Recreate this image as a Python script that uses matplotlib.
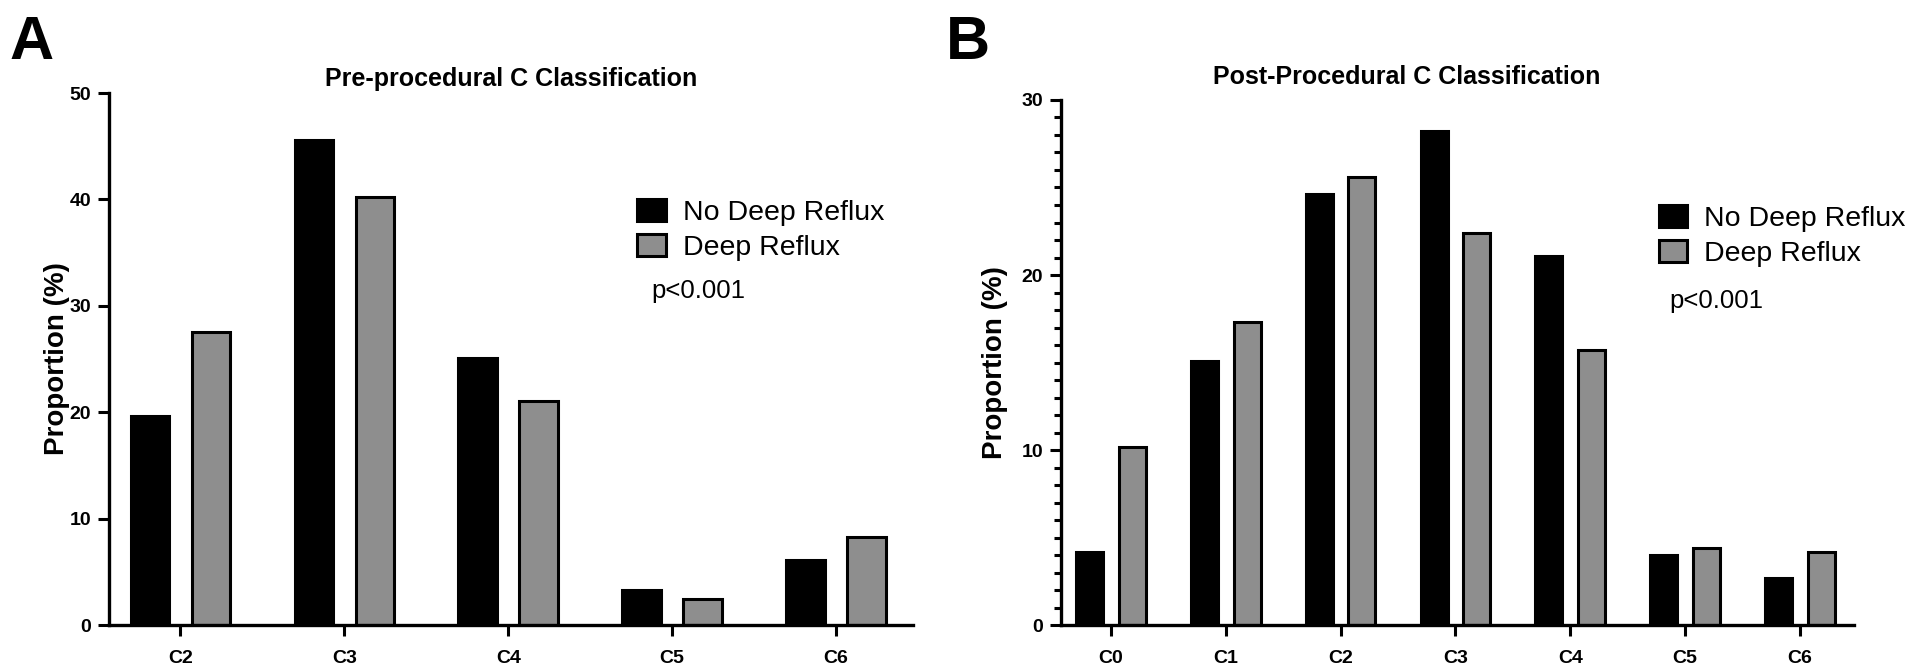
import matplotlib
matplotlib.use("Agg")
import matplotlib.pyplot as plt
import numpy as np
from matplotlib.ticker import MultipleLocator

plt.rcParams["font.family"] = ["Liberation Sans", "DejaVu Sans"]

# panel A: pre-procedural
pre_cats = ["C2", "C3", "C4", "C5", "C6"]
pre_no_deep = [19.6, 45.6, 25.1, 3.3, 6.1]
pre_deep = [27.5, 40.2, 21.1, 2.4, 8.3]

# panel B: post-procedural
post_cats = ["C0", "C1", "C2", "C3", "C4", "C5", "C6"]
post_no_deep = [4.2, 15.1, 24.6, 28.2, 21.1, 4.0, 2.7]
post_deep = [10.2, 17.3, 25.6, 22.4, 15.7, 4.4, 4.2]

series_labels = ["No Deep Reflux", "Deep Reflux"]
p_text = "p<0.001"

GREY = "#8e8e8e"
LW = 2.2


def draw_panel(ax, cats, no_deep, deep, ymax, minor, title, title_x, title_y,
               leg_xy, p_xy, ylabel_x):
    x = np.arange(len(cats))
    off, w = 0.186, 0.235
    b1 = ax.bar(x - off, no_deep, w, color="black", edgecolor="black",
                linewidth=LW, label=series_labels[0])
    b2 = ax.bar(x + off, deep, w, color=GREY, edgecolor="black",
                linewidth=LW, label=series_labels[1])
    ax.set_xlim(-0.435, len(cats) - 1 + 0.47)
    ax.set_ylim(0, ymax)
    ax.set_xticks(x)
    ax.set_xticklabels(cats, fontsize=14, fontweight="bold")
    ax.yaxis.set_major_locator(MultipleLocator(10))
    if minor:
        ax.yaxis.set_minor_locator(MultipleLocator(1))
    for lab in ax.get_yticklabels():
        lab.set_fontsize(14)
        lab.set_fontweight("bold")
    ax.tick_params(axis="both", which="major", length=8, width=2.2,
                   direction="out", pad=5)
    ax.tick_params(axis="y", which="minor", length=5, width=2.2)
    ax.tick_params(axis="x", pad=10)
    for s in ("top", "right"):
        ax.spines[s].set_visible(False)
    for s in ("left", "bottom"):
        ax.spines[s].set_linewidth(2.4)
    ax.set_ylabel("Proportion (%)", fontsize=20, fontweight="bold")
    ax.yaxis.set_label_coords(ylabel_x, 0.5)
    ax.text(title_x, title_y, title, transform=ax.transAxes, ha="center",
            va="center", fontsize=18, fontweight="bold")
    ax.legend(handles=[b1, b2], loc="center left", bbox_to_anchor=leg_xy,
              frameon=False, fontsize=20.5, handlelength=1.0,
              handleheight=0.8, handletextpad=0.6, labelspacing=0.3,
              borderpad=0, borderaxespad=0)
    ax.text(p_xy[0], p_xy[1], p_text, transform=ax.transAxes, ha="left",
            va="center", fontsize=18.5)


fig = plt.figure(figsize=(19.2, 6.72), dpi=100)
ax_a = fig.add_axes([0.0568, 0.0699, 0.4188, 0.7917])
ax_b = fig.add_axes([0.5526, 0.0699, 0.4130, 0.7813])

draw_panel(ax_a, pre_cats, pre_no_deep, pre_deep, 50, False,
           "Pre-procedural C Classification", 0.5006, 1.026,
           (0.657, 0.7425), (0.674, 0.628), -0.049)
draw_panel(ax_b, post_cats, post_no_deep, post_deep, 30, True,
           "Post-Procedural C Classification", 0.436, 1.044,
           (0.754, 0.741), (0.767, 0.617), -0.067)

fig.text(0.0047, 0.936, "A", fontsize=44, fontweight="bold", ha="left", va="center")
fig.text(0.4925, 0.936, "B", fontsize=44, fontweight="bold", ha="left", va="center")

fig.savefig("out.png", dpi=100)
